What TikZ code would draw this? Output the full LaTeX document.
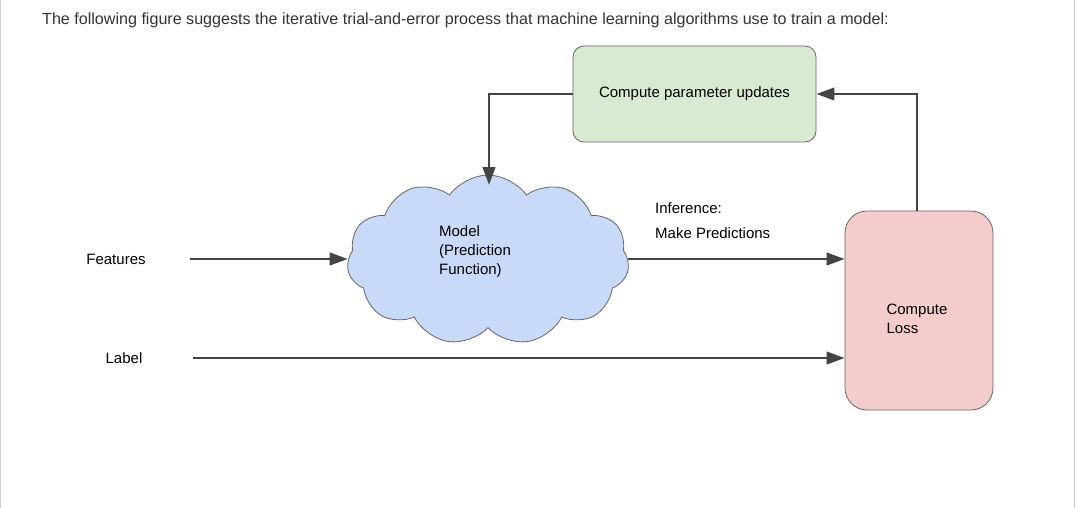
\documentclass[tikz,border=0pt]{standalone}
\usepackage{fontspec}
\setmainfont{Liberation Sans}
\usetikzlibrary{arrows.meta,shapes.symbols}
\definecolor{linec}{HTML}{444444}
\definecolor{edgec}{HTML}{666666}
\definecolor{greenf}{HTML}{D9EAD3}
\definecolor{redf}{HTML}{F4CCCC}
\definecolor{bluef}{HTML}{C9DAF8}
\definecolor{titlec}{HTML}{333333}
\definecolor{framec}{HTML}{CCCCD4}
\begin{document}
\begin{tikzpicture}[x=1pt,y=-1pt,
  every node/.style={font=\fontsize{15}{18}\selectfont, text=black, inner sep=0pt},
  conn/.style={draw=linec, line width=2.6pt, -{Triangle[length=18pt,width=12.5pt]}},
  boxg/.style={draw=edgec, line width=0.8pt, fill=greenf, rounded corners=11pt},
  boxr/.style={draw=edgec, line width=0.8pt, fill=redf, rounded corners=22pt},
  cloudn/.style={cloud, cloud puffs=11, cloud puff arc=110, cloud ignores aspect, draw=edgec, line width=0.8pt, fill=bluef}
]
\useasboundingbox (0,0) rectangle (1076,508);
\draw[framec, line width=1.2pt] (0.6,0) -- (0.6,508);
\draw[framec, line width=1.2pt] (1074.4,0) -- (1074.4,508);

\node[anchor=west, text=titlec, font=\fontsize{16.1}{19}\selectfont] (title) at (42,20)
  {The following figure suggests the iterative trial-and-error process that machine learning algorithms use to train a model:};

\node[boxg, minimum width=243pt, minimum height=96pt] (upd) at (694.5,94) {Compute parameter updates};
\node[boxr, minimum width=148pt, minimum height=199pt] (loss) at (919,310.5) {};
\node[align=left, font=\fontsize{15}{18.5}\selectfont] (losst) at (917,319) {Compute\\Loss};

\node[cloudn, minimum width=282pt, minimum height=170pt] (model) at (488,260) {};
\node[align=left, font=\fontsize{15}{19}\selectfont] (modelt) at (475,252) {Model\\(Prediction\\Function)};

\node (feat) at (116,259) {Features};
\node (lbl) at (124,358) {Label};
\node[anchor=west] (inf1) at (655,208) {Inference:};
\node[anchor=west] (inf2) at (655,233) {Make Predictions};

\coordinate (fstart) at (190,259);
\coordinate (lstart) at (193,358);
\coordinate (mtop) at (489,185);

\draw[conn] (fstart) -- (fstart -| model.west);
\draw[conn] (lstart) -- (lstart -| loss.west);
\draw[conn] (model.east |- fstart) -- (fstart -| loss.west);
\draw[conn] (loss.north -| 917,0) |- (upd.east);
\draw[conn] (upd.west) -| (mtop);
\end{tikzpicture}
\end{document}
